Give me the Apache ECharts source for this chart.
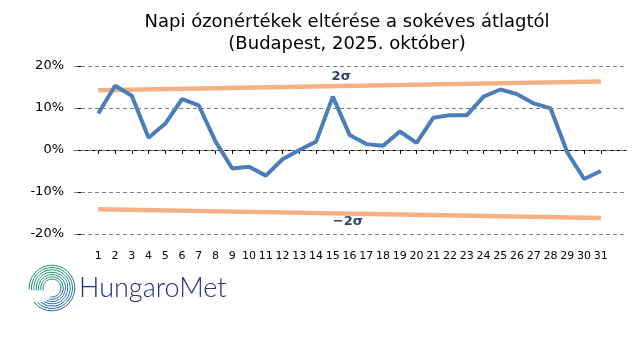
<!DOCTYPE html>
<html>
<head>
<meta charset="utf-8">
<script src="https://cdn.jsdelivr.net/npm/echarts@6/dist/echarts.min.js"></script>
<style>html,body{margin:0;padding:0;background:#fff}#chart{width:640px;height:360px}</style>
</head>
<body>
<div id="chart"></div>
<script>
// Data
const days = [1,2,3,4,5,6,7,8,9,10,11,12,13,14,15,16,17,18,19,20,21,22,23,24,25,26,27,28,29,30,31];
const deviation = [8.7,15.3,12.9,2.9,6.3,12.1,10.6,2.0,-4.4,-4.0,-6.1,-2.2,0.0,2.0,12.7,3.6,1.4,1.0,4.4,1.7,7.7,8.3,8.3,12.7,14.4,13.3,11.1,9.9,-0.6,-6.9,-5.0];
const sigmaDays = [1,31];
const upperSigma = [14.2,16.3];
const lowerSigma = [-14.1,-16.2];
const yTicks = [-20,-10,0,10,20];
const titleText = 'Napi ózonértékek eltérése a sokéves átlagtól\n(Budapest, 2025. október)';

const chart = echarts.init(document.getElementById('chart'), null, {renderer:'canvas'});
const font = 'DejaVu Sans';

// logo arcs (spiral-like stripes)
const logoArcs = [];
const grad = new echarts.graphic.LinearGradient(0,0,0.4,1,[{offset:0,color:'#22a05a'},{offset:0.5,color:'#1b8f8a'},{offset:1,color:'#2a62b0'}]);
const radii = [9,11.3,13.6,15.9,18.2,20.5,22.8];
radii.forEach((r,i)=>{
  logoArcs.push({type:'arc', shape:{cx:52, cy:288, r:r,
      startAngle: Math.PI*(0.92 + 0.01*i), endAngle: Math.PI*(0.55 + 0.04*i), clockwise:true},
    style:{stroke:grad, lineWidth:1, fill:'none'}, silent:true});
});

chart.setOption({
  animation:false,
  grid:{left:74, right:14, top:57.6, bottom:117.6, containLabel:false},
  xAxis:{
    type:'value', min:-0.45, max:32.5,
    axisLine:{show:true, lineStyle:{color:'#000', width:1}},
    axisTick:{show:true, customValues:days, length:4, lineStyle:{color:'#000'}},
    axisLabel:{customValues:days, fontFamily:font, fontSize:11, color:'#000', margin:8},
    splitLine:{show:false}
  },
  yAxis:{
    type:'value', min:-22, max:22,
    axisLine:{show:false},
    axisTick:{show:true, customValues:yTicks, length:5, lineStyle:{color:'#000'}},
    axisLabel:{customValues:yTicks, fontFamily:font, fontSize:13, color:'#000', margin:10, formatter:v=>v+'%'},
    splitLine:{show:false}
  },
  graphic:[
    {type:'text', x:347, y:11, style:{text:titleText, align:'center', verticalAlign:'top', fontFamily:font, fontSize:18, fill:'#000', lineHeight:22}},
    ...logoArcs,
    {type:'text', left:79, top:275, style:{text:'HungaroMet', fontFamily:'Lato', fontWeight:300, fontSize:27, fill:'#2e2c80'}}
  ],
  series:[
    {
      type:'line', data:[], z:1, silent:true,
      markLine:{symbol:'none', silent:true, label:{show:false},
        lineStyle:{color:'#808080', type:[4,3], width:1},
        data: yTicks.map(v=>({yAxis:v}))}
    },
    {
      type:'line', name:'2σ', data: sigmaDays.map((d,i)=>[d,upperSigma[i]]),
      symbol:'none', lineStyle:{color:'#f4b183', width:4.5}, z:3,
      markPoint:{symbol:'circle', symbolSize:0, data:[{coord:[15.5,17.5], value:'2σ'}],
        label:{show:true, formatter:'2σ', fontFamily:font, fontWeight:'bold', fontSize:13, color:'#2e4468'}}
    },
    {
      type:'line', name:'-2σ', data: sigmaDays.map((d,i)=>[d,lowerSigma[i]]),
      symbol:'none', lineStyle:{color:'#f4b183', width:4.5}, z:3,
      markPoint:{symbol:'circle', symbolSize:0, data:[{coord:[15.9,-17.0], value:'−2σ'}],
        label:{show:true, formatter:'−2σ', fontFamily:font, fontWeight:'bold', fontSize:13, color:'#2e4468'}}
    },
    {
      type:'line', name:'eltérés', data: days.map((d,i)=>[d,deviation[i]]),
      symbol:'none', lineStyle:{color:'#4a7ebb', width:4}, z:4
    }
  ]
});
</script>
</body>
</html>
